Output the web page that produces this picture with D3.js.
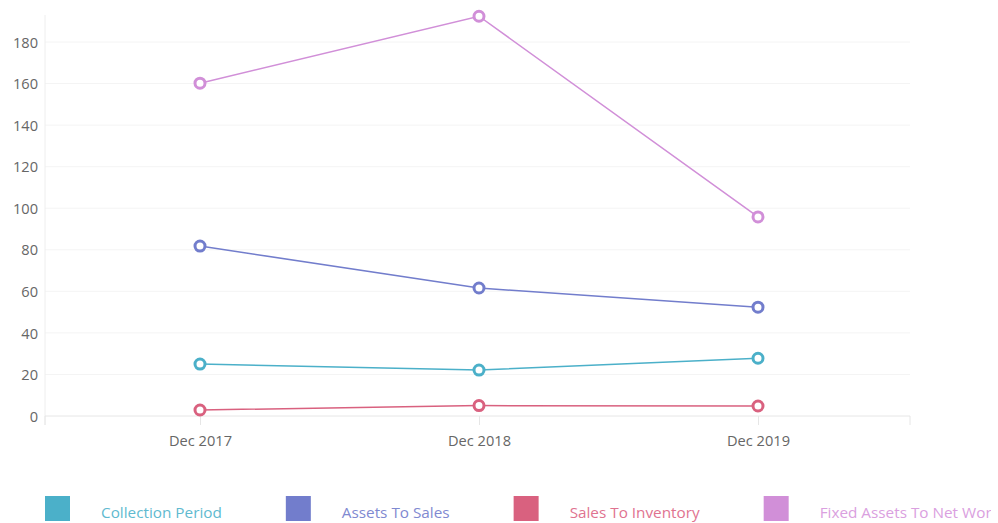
<!DOCTYPE html>
<html>
<head>
<meta charset="utf-8">
<script src="https://cdn.jsdelivr.net/npm/d3@7"></script>
<style>
  body { margin: 0; background: #fff; }
  svg { font-family: "Open Sans", sans-serif; display: block; }
</style>
</head>
<body>
<div id="chart"></div>
<script>
// categories and series
var periods = ["Dec 2017", "Dec 2018", "Dec 2019"];
var seriesNames = ["Collection Period", "Assets To Sales", "Sales To Inventory", "Fixed Assets To Net Worth"];
var collectionPeriod = [25.0, 22.1, 27.8];
var assetsToSales = [81.8, 61.6, 52.4];
var salesToInventory = [2.9, 5.0, 4.8];
var fixedAssetsToNetWorth = [160.2, 192.4, 95.8];
var yTicks = [0, 20, 40, 60, 80, 100, 120, 140, 160, 180];
var colors = ["#4bb0c9", "#727dcc", "#d9617f", "#d18fd8"];
var textColors = ["#5fbad0", "#7f89d1", "#df7390", "#daa0e0"];

var allValues = [collectionPeriod, assetsToSales, salesToInventory, fixedAssetsToNetWorth];

function drawLineChart(width, height) {
    var svg = d3.select("#chart")
        .append("svg")
        .attr("width", width)
        .attr("height", height);

    var left = 45, right = 910, top = 15, bottom = 416;

    // first and last category sit a bit inside the plot area
    var x = d3.scalePoint().domain(periods).range([200, 758]);
    var y = d3.scaleLinear().domain([0, 193]).range([bottom, top]);

    // horizontal grid
    svg.append("g")
        .selectAll("line")
        .data(yTicks.slice(1))
        .enter()
        .append("line")
        .attr("x1", left).attr("x2", right)
        .attr("y1", d => y(d)).attr("y2", d => y(d))
        .attr("stroke", "#f4f4f4");

    // y axis
    var yAxis = svg.append("g")
        .attr("transform", "translate(" + left + ",0)")
        .call(d3.axisLeft(y).tickValues(yTicks).tickSize(0).tickPadding(7));
    yAxis.attr("font-family", null).attr("font-size", null);
    yAxis.select(".domain").attr("stroke", "#eeeeee").attr("d", "M0," + top + "V" + (bottom + 9));
    yAxis.selectAll("text").attr("fill", "#666").style("font-size", "14.6px").attr("dy", "0.35em");

    // x axis
    var xAxis = svg.append("g")
        .attr("transform", "translate(0," + bottom + ")")
        .call(d3.axisBottom(x).tickSize(9).tickPadding(11));
    xAxis.attr("font-family", null).attr("font-size", null);
    xAxis.select(".domain").attr("stroke", "#e6e6e6").attr("d", "M" + left + ",0H" + right);
    xAxis.selectAll("line").attr("stroke", "#e6e6e6");
    xAxis.selectAll("text").attr("fill", "#666").style("font-size", "14.6px");
    // end ticks
    xAxis.selectAll(".endtick")
        .data([left, right])
        .enter()
        .append("line")
        .attr("x1", d => d).attr("x2", d => d)
        .attr("y1", 0).attr("y2", 9)
        .attr("stroke", "#e6e6e6");

    var line = d3.line()
        .x((d, i) => x(periods[i]))
        .y(d => y(d));

    var series = svg.selectAll(".series")
        .data(allValues)
        .enter()
        .append("g")
        .attr("class", "series");

    series.append("path")
        .attr("d", d => line(d))
        .attr("fill", "none")
        .attr("stroke", (d, i) => colors[i])
        .attr("stroke-width", 1.5);

    series.each(function (vals, si) {
        d3.select(this).selectAll("circle")
            .data(vals)
            .enter()
            .append("circle")
            .attr("cx", (d, i) => x(periods[i]))
            .attr("cy", d => y(d))
            .attr("r", 5)
            .attr("fill", "#fff")
            .attr("stroke", colors[si])
            .attr("stroke-width", 3);
    });

    // legend (last label is cut at the right edge, as in the original)
    svg.append("clipPath").attr("id", "legclip")
        .append("rect").attr("x", 0).attr("y", 480).attr("width", 991).attr("height", 43);

    var legend = svg.append("g").attr("clip-path", "url(#legclip)");
    var lx = 45;
    seriesNames.forEach(function (name, i) {
        var g = legend.append("g").attr("transform", "translate(" + lx + ",496)");
        g.append("rect")
            .attr("width", 25).attr("height", 25)
            .attr("fill", colors[i]);
        var t = g.append("text")
            .attr("x", 56).attr("y", 22)
            .attr("fill", textColors[i])
            .style("font-size", "15.3px")
            .text(name);
        lx += 56 + t.node().getComputedTextLength() + 64;
    });
}

drawLineChart(998, 523);
</script>
</body>
</html>
